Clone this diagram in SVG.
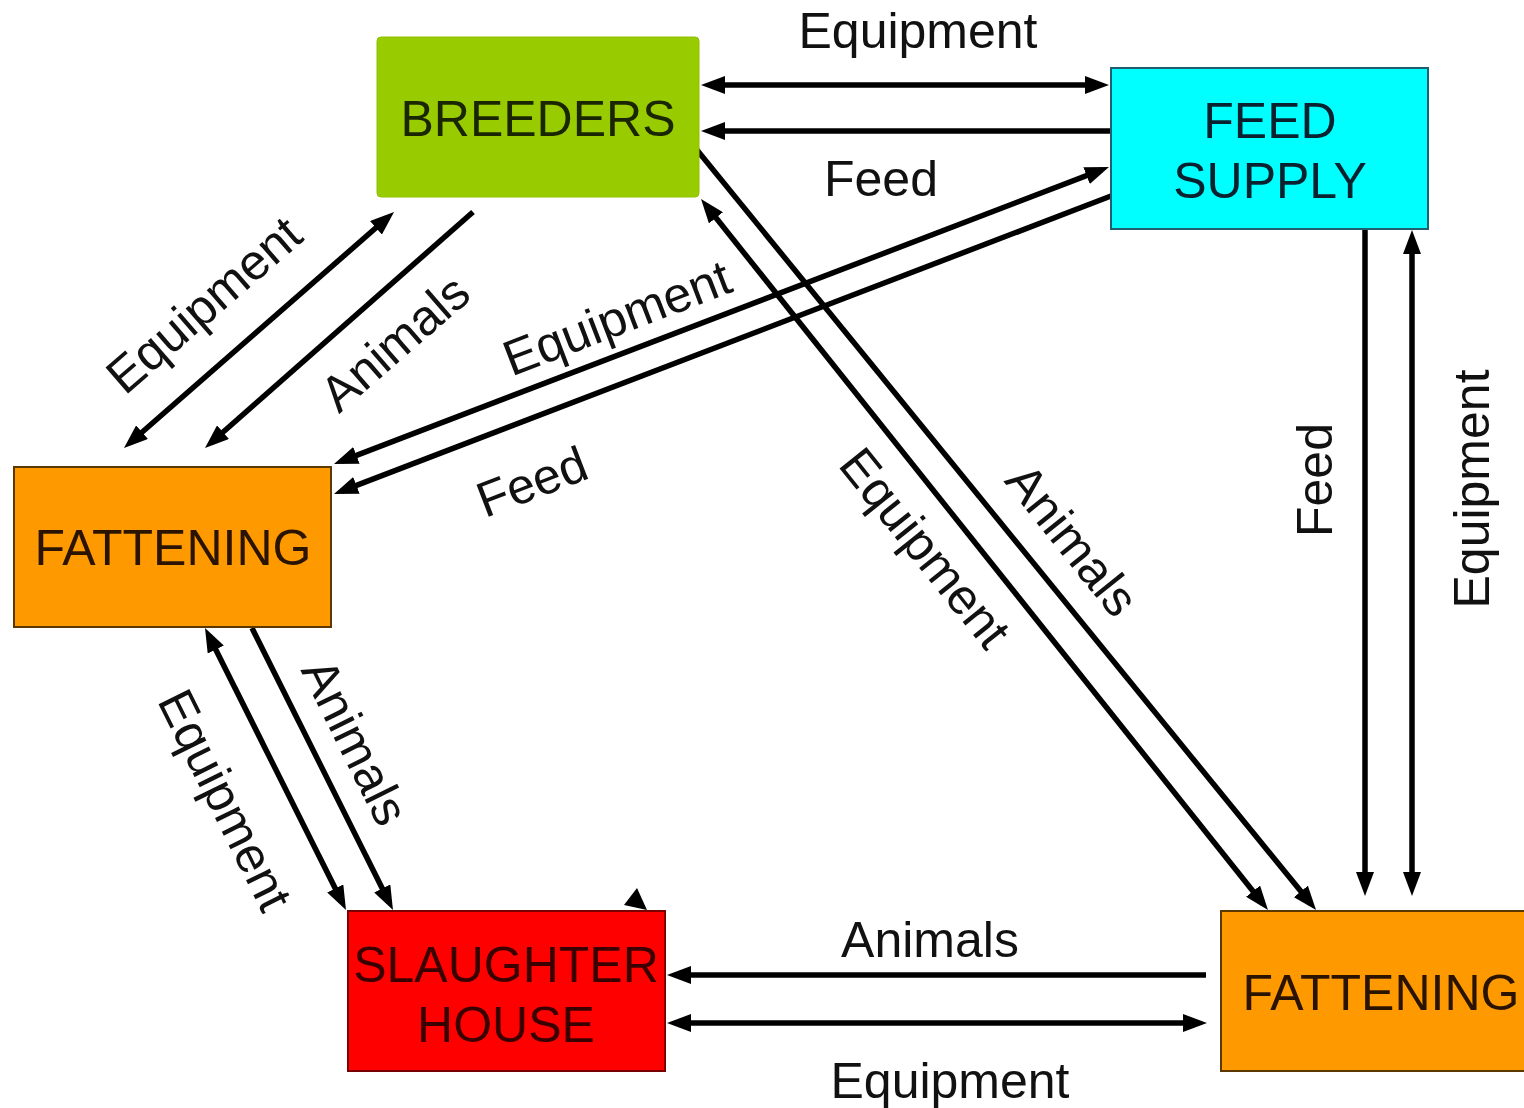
<svg xmlns="http://www.w3.org/2000/svg" width="1524" height="1108" viewBox="0 0 1524 1108">
<style>
.lbl{font-family:"Liberation Sans",Arial,sans-serif;font-size:50px;fill:#111;}
.rl{font-family:"Liberation Sans",Arial,sans-serif;font-size:50px;fill:#111;text-anchor:middle;dominant-baseline:central;}
.nt{font-family:"Liberation Sans",Arial,sans-serif;font-size:50px;text-anchor:middle;}
.c{stroke:#000;stroke-width:5.5;fill:none;}
.one{marker-end:url(#ah);}
.two{marker-start:url(#ah);marker-end:url(#ah);}
</style>
<defs>
<marker id="ah" markerUnits="userSpaceOnUse" markerWidth="24" markerHeight="18" refX="16" refY="9" orient="auto-start-reverse">
<path d="M0,0 L24,9 L0,18 z" fill="#000"/>
</marker>
</defs>
<rect width="1524" height="1108" fill="#fff"/>
<g id="connectors">
<line class="c two" x1="709" y1="85" x2="1101" y2="85"/>
<line class="c one" x1="1111" y1="131" x2="709" y2="131"/>
<line class="c one" x1="697" y1="150" x2="1311" y2="903.8"/>
<line class="c two" x1="706" y1="205.3" x2="1263" y2="903.7"/>
<line class="c two" x1="1101.5" y1="169.9" x2="341.5" y2="461.1"/>
<line class="c one" x1="1111" y1="196" x2="341.5" y2="491.1"/>
<line class="c two" x1="130" y1="442.7" x2="388" y2="217.3"/>
<line class="c one" x1="473" y1="212" x2="211" y2="442.7"/>
<line class="c two" x1="208.6" y1="635.2" x2="342.4" y2="902.8"/>
<line class="c one" x1="252" y1="628" x2="389.4" y2="902.8"/>
<line class="c one" x1="1206" y1="975" x2="675" y2="975"/>
<line class="c two" x1="675" y1="1023" x2="1199" y2="1023"/>
<line class="c one" x1="1365" y1="229" x2="1365" y2="888"/>
<line class="c two" x1="1412" y1="238" x2="1412" y2="888"/>
<polygon points="637,888 624,905 647,910" fill="#000"/>
<text class="lbl" x="918" y="48" text-anchor="middle">Equipment</text>
<text class="lbl" x="881" y="196" text-anchor="middle">Feed</text>
<text class="lbl" x="930" y="957" text-anchor="middle">Animals</text>
<text class="lbl" x="950" y="1098" text-anchor="middle">Equipment</text>
<text class="rl" transform="translate(204,305) rotate(-41)">Equipment</text>
<text class="rl" transform="translate(395,343) rotate(-41)">Animals</text>
<text class="rl" transform="translate(617,318) rotate(-21)">Equipment</text>
<text class="rl" transform="translate(532,482) rotate(-21)">Feed</text>
<text class="rl" transform="translate(925,548) rotate(51.3)">Equipment</text>
<text class="rl" transform="translate(1072,540) rotate(51.3)">Animals</text>
<text class="rl" transform="translate(1315,480) rotate(-90)">Feed</text>
<text class="rl" transform="translate(1472,489) rotate(-90)">Equipment</text>
<text class="rl" transform="translate(225,800) rotate(63.6)">Equipment</text>
<text class="rl" transform="translate(355,742) rotate(63.6)">Animals</text>
</g>
<g id="breeders">
<rect x="377" y="37" width="322" height="160" rx="4" fill="#99CC00" stroke="#8fc000" stroke-width="1"/>
<text class="nt" x="538" y="136" fill="#1a2600">BREEDERS</text>
</g>
<g id="feed-supply">
<rect x="1111" y="68" width="317" height="161" fill="#00FFFF" stroke="#1f5f6f" stroke-width="2"/>
<text class="nt" x="1270" y="138" fill="#0a2230">FEED</text>
<text class="nt" x="1270" y="198" fill="#0a2230">SUPPLY</text>
</g>
<g id="fattening-left">
<rect x="14" y="467" width="317" height="160" fill="#FF9900" stroke="#5a3800" stroke-width="2"/>
<text class="nt" x="173" y="565" fill="#2a1400">FATTENING</text>
</g>
<g id="slaughter-house">
<rect x="348" y="911" width="317" height="160" fill="#FF0000" stroke="#7a0000" stroke-width="2"/>
<text class="nt" x="506" y="982" fill="#3a0000">SLAUGHTER</text>
<text class="nt" x="506" y="1042" fill="#3a0000">HOUSE</text>
</g>
<g id="fattening-right">
<rect x="1221" y="911" width="320" height="160" fill="#FF9900" stroke="#5a3800" stroke-width="2"/>
<text class="nt" x="1381" y="1010" fill="#2a1400">FATTENING</text>
</g>
</svg>
